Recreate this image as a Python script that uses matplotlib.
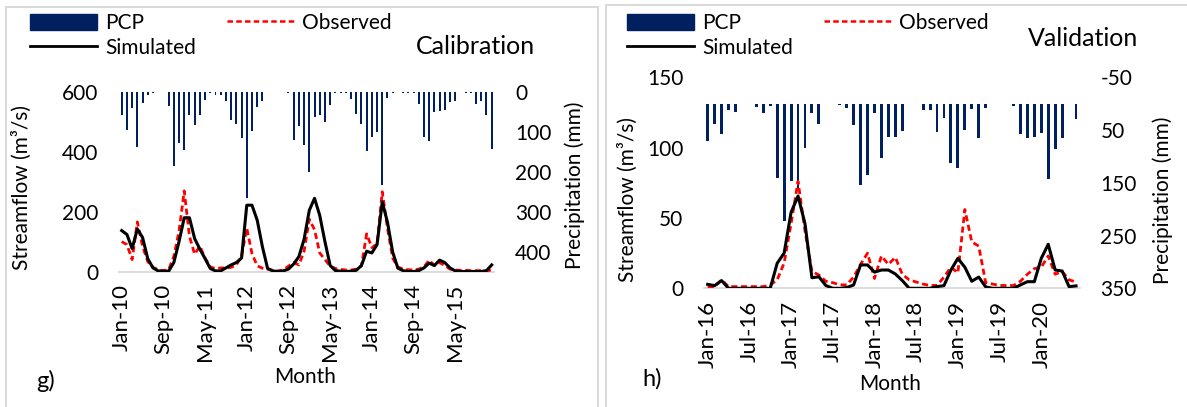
import matplotlib
matplotlib.use("Agg")
import matplotlib.pyplot as plt
from matplotlib.lines import Line2D
from matplotlib.patches import Patch, Rectangle

plt.rcParams['font.family'] = ['Lato', 'DejaVu Sans']
plt.rcParams['axes.unicode_minus'] = False

# ---------------- Calibration period: Jan-2010 .. Dec-2015 ----------------
calib_months = [f"{m}-{y:02d}" for y in range(10, 16)
                for m in ["Jan", "Feb", "Mar", "Apr", "May", "Jun",
                          "Jul", "Aug", "Sep", "Oct", "Nov", "Dec"]]

calib_pcp = [58, 94, 40, 138, 28, 7, 2, 0, 0, 35, 186, 128,
             146, 57, 82, 58, 19, 2.5, 6, 8, 21, 69, 80, 115,
             265, 96, 38, 23, 0, 0, 0, 0, 2, 120, 84, 132,
             199, 63, 57, 75, 32, 2, 3, 2, 18, 54, 79, 148,
             113, 100, 234, 14, 1, 0, 1, 2, 2.5, 29, 113, 123,
             50, 46, 44, 25, 23, 0, 1.5, 1.5, 29, 23, 57, 142]

calib_obs = [100, 90, 40, 166, 85, 33, 14, 6, 3, 6, 50, 135,
             270, 118, 58, 85, 45, 15, 10, 12, 12, 14, 22, 52,
             145, 60, 19, 11, 8, 4, 2, 5, 18, 30, 22, 68,
             175, 140, 62, 40, 18, 10, 7, 5, 5, 8, 18, 126,
             80, 92, 267, 145, 45, 15, 8, 6, 5, 8, 15, 38,
             20, 30, 20, 8, 5, 4, 4, 3, 3, 3, 3, 4]

calib_sim = [137, 124, 77, 142, 114, 43, 12, 2, 1, 1, 30, 100,
             180, 180, 110, 75, 43, 10, 2, 2, 12, 22, 30, 45,
             222, 222, 172, 83, 10, 2, 0, 2, 8, 25, 50, 108,
             205, 245, 188, 100, 20, 3, 1, 0, 1, 4, 20, 68,
             62, 90, 233, 165, 65, 11, 3, 0, 0, 3, 12, 28,
             20, 38, 30, 12, 2, 0, 0, 0, 0, 0, 3, 22]

# ---------------- Validation period: Jan-2016 .. Jun-2020 ----------------
valid_months = [f"{m}-{y:02d}" for y in range(16, 21)
                for m in ["Jan", "Feb", "Mar", "Apr", "May", "Jun",
                          "Jul", "Aug", "Sep", "Oct", "Nov", "Dec"]][:54]

valid_pcp = [70, 39, 57, 12, 15, 1, 1, 6, 18, 4, 140, 222,
             147, 160, 84, 17, 39, 1, 0, 2, 9, 40, 154, 136,
             17, 103, 63, 63, 51, 0, 0.5, 12, 12, 53, 27, 112,
             121, 50, 10, 65, 8, 1, 0, 1, 4, 58, 66, 63,
             55, 142, 86, 66, 0, 29]

valid_obs = [0.5, 1.2, 6, 1.2, 1.2, 1.2, 1.2, 1.2, 1.2, 2.4, 6, 18,
             46, 76, 41, 12, 9.5, 5, 4, 2.5, 2.4, 8, 17, 25,
             7, 23, 17, 22, 10, 6, 4.5, 3, 2, 2, 8, 15,
             11, 56, 33, 30, 4, 3, 2, 2, 2, 5, 10, 14,
             15, 23, 10, 12, 6, 4.5]

valid_sim = [2.8, 1.9, 5.5, 0, 0, 0, 0, 0, 0, 0, 17.8, 25,
             54, 65.6, 46, 7.5, 8.2, 2, 0, 0, 0.5, 2.4, 16.6, 16.6,
             11.5, 13, 13, 10.2, 5.5, 0, 0, 0, 0, 1.2, 1.9, 13,
             21.3, 15, 5, 8, 1, 0, 0, 0, 0, 2.4, 4.7, 4.7,
             21.3, 31.3, 13, 12.3, 1.2, 1.7]

BAR_C = "#002060"
OBS_C = "#FF0000"
SIM_C = "#000000"
AXIS_GREY = "#D9D9D9"
TICK_FS = 15
XTICK_FS = 16
LABEL_FS = 15
OBS_LS = (0, (2.2, 1.3))

W, H = 1187, 407
fig = plt.figure(figsize=(W / 100, H / 100), dpi=100)


def px_box(x0, y0, x1, y1):
    """Axes rectangle from pixel corners (top-left origin)."""
    return [x0 / W, 1 - y1 / H, (x1 - x0) / W, (y1 - y0) / H]


def panel(box, months, pcp, obs, sim, flow_lim, flow_ticks,
          pcp_lim, pcp_ticks, tick_step, bar_w):
    ax = fig.add_axes(box)
    ax2 = ax.twinx()
    x = list(range(len(months)))

    ax2.bar(x, pcp, width=bar_w, color=BAR_C, align="center")
    ax2.set_ylim(*pcp_lim)
    ax2.set_yticks(pcp_ticks)

    ax.plot(x, obs, color=OBS_C, lw=2.0, ls=OBS_LS)
    ax.plot(x, sim, color=SIM_C, lw=2.2)
    ax.set_ylim(*flow_lim)
    ax.set_yticks(flow_ticks)
    ax.set_xlim(-0.5, len(months) - 0.5)
    ax.set_xticks(x[::tick_step])
    ax.set_xticklabels(months[::tick_step], rotation=90)

    ax.set_zorder(ax2.get_zorder() + 1)
    ax.patch.set_visible(False)

    for a in (ax, ax2):
        for s in a.spines.values():
            s.set_visible(False)
    ax.spines["bottom"].set_visible(True)
    ax.spines["bottom"].set_color(AXIS_GREY)
    ax.spines["bottom"].set_linewidth(1.3)
    ax.spines["bottom"].set_zorder(0)

    ax.tick_params(axis="y", length=0, pad=15, labelsize=TICK_FS)
    ax.tick_params(axis="x", length=0, pad=9, labelsize=XTICK_FS)
    ax2.tick_params(axis="y", length=0, pad=15, labelsize=TICK_FS)
    return ax, ax2


# Calibration panel
panel(px_box(119.1, 92.3, 494.3, 271.5), calib_months, calib_pcp,
      calib_obs, calib_sim, (0, 600), [0, 200, 400, 600],
      (450, 0), [0, 100, 200, 300, 400], 8, 0.38)

# Validation panel
panel(px_box(704.2, 77.3, 1079.5, 288.3), valid_months, valid_pcp,
      valid_obs, valid_sim, (0, 150), [0, 50, 100, 150],
      (350, -50), [-50, 50, 150, 250, 350], 6, 0.42)

# Panel frames
for x0, y0, x1, y1 in [(6, 7, 598, 412), (606, 5, 1192, 412)]:
    fig.add_artist(Rectangle((x0 / W, 1 - y1 / H), (x1 - x0) / W, (y1 - y0) / H,
                             transform=fig.transFigure, fill=False,
                             edgecolor=AXIS_GREY, lw=1.4))

handles = [Patch(facecolor=BAR_C, edgecolor=BAR_C),
           Line2D([], [], color=SIM_C, lw=2.0),
           Line2D([], [], color=OBS_C, lw=1.8, ls=OBS_LS)]
labels = ["PCP", "Simulated", "Observed"]

for lx, title, tx, ty in [(30, "Calibration", 475, 47), (627, "Validation", 1083, 38)]:
    fig.legend(handles, labels, loc="upper left",
               bbox_to_anchor=(lx / W, 1 - 13 / H), ncol=2, frameon=False,
               fontsize=LABEL_FS, handlelength=3.2, handleheight=0.8,
               handletextpad=0.4, columnspacing=1.5, labelspacing=0.22,
               borderpad=0, borderaxespad=0)
    fig.text(tx / W, 1 - ty / H, title, ha="center", va="center", fontsize=18)

# Axis titles
for x, y, s in [(22, 188, "Streamflow (m³/s)"), (575, 185, "Precipitation (mm)"),
                (628, 200, "Streamflow (m³/s)"), (1163, 200, "Precipitation (mm)")]:
    fig.text(x / W, 1 - y / H, s, rotation=90, ha="center", va="center",
             fontsize=LABEL_FS)

for x, y, s in [(305, 377, "Month"), (890, 384, "Month")]:
    fig.text(x / W, 1 - y / H, s, ha="center", va="center", fontsize=LABEL_FS)

for x, y, s in [(46, 381, "g)"), (652, 379, "h)")]:
    fig.text(x / W, 1 - y / H, s, ha="center", va="center", fontsize=17)

fig.savefig("out.png", dpi=100)
